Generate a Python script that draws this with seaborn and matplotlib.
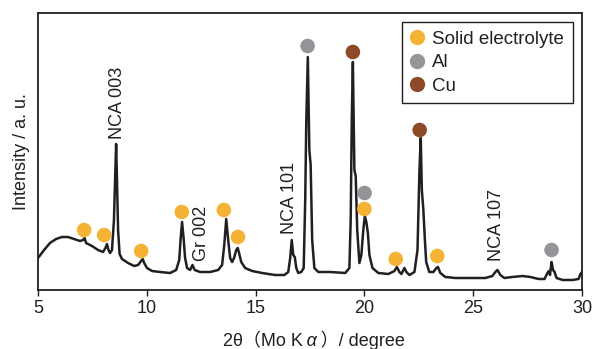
import numpy as np
import pandas as pd
import matplotlib
matplotlib.use("Agg")
import matplotlib.pyplot as plt
from matplotlib.offsetbox import TextArea, HPacker, AnchoredOffsetbox
import seaborn as sns

# ---- data (2theta in degree, intensity in a.u.) ----
two_theta = [5.00, 5.28, 5.55, 5.83, 6.10, 6.38, 6.66, 6.93, 7.07, 7.14, 7.21, 7.48,
             7.76, 7.99, 8.10, 8.17, 8.24, 8.31, 8.40, 8.49, 8.54, 8.59, 8.63, 8.68,
             8.75, 8.86, 9.14, 9.42, 9.60, 9.74, 9.81, 9.88, 10.01, 10.24, 10.61, 11.07,
             11.35, 11.49, 11.55, 11.62, 11.69, 11.76, 11.85, 11.99, 12.10, 12.20, 12.45,
             12.91, 13.28, 13.46, 13.56, 13.65, 13.74, 13.83, 13.92, 14.01, 14.11, 14.18,
             14.24, 14.34, 14.52, 14.84, 15.30, 15.90, 16.32, 16.50, 16.59, 16.66, 16.73,
             16.80, 16.87, 16.96, 17.10, 17.21, 17.28, 17.33, 17.40, 17.47, 17.53, 17.60,
             17.70, 17.88, 18.43, 19.12, 19.31, 19.37, 19.42, 19.47, 19.54, 19.60, 19.67,
             19.77, 19.86, 19.95, 20.02, 20.09, 20.16, 20.23, 20.37, 20.64, 21.10, 21.38,
             21.49, 21.61, 21.70, 21.84, 21.93, 22.07, 22.30, 22.44, 22.53, 22.59, 22.64,
             22.71, 22.78, 22.84, 22.98, 23.17, 23.31, 23.38, 23.49, 23.72, 24.18, 24.87,
             25.56, 25.88, 26.02, 26.11, 26.25, 26.43, 26.80, 27.26, 27.63, 28.00, 28.28,
             28.41, 28.48, 28.53, 28.60, 28.67, 28.74, 28.83, 29.11, 29.57, 29.84, 29.93,
             30.00]
intensity = [32, 40, 47, 51, 53, 53, 51, 49, 50, 52, 47, 44,
             40, 38, 42, 46, 40, 37, 40, 70, 110, 146, 110, 60,
             36, 31, 27, 24, 25, 29, 31, 27, 22, 19, 18, 17,
             20, 30, 50, 68, 52, 32, 22, 20, 25, 20, 18,
             18, 20, 25, 45, 71, 50, 32, 28, 32, 40, 42,
             37, 28, 22, 19, 17, 15, 15, 18, 32, 50, 35,
             33, 22, 17, 18, 22, 90, 170, 233, 140, 125, 50,
             22, 18, 18, 17, 22, 70, 170, 228, 120, 114, 60,
             27, 35, 60, 74, 68, 57, 35, 22, 17, 16, 19,
             23, 18, 16, 22, 18, 15, 18, 40, 120, 152, 100,
             80, 50, 28, 18, 18, 22, 23, 17, 13, 12, 12,
             12, 14, 18, 20, 15, 12, 13, 14, 13, 11, 11,
             17, 19, 15, 28, 20, 18, 12, 10, 10, 11, 16,
             18]

# phase markers
marker_phase = ["Solid electrolyte"] * 9 + ["Al"] * 3 + ["Cu"] * 2
marker_x = [7.12, 8.04, 9.74, 11.61, 13.54, 14.19, 20.00, 21.44, 23.35,
            17.39, 20.01, 28.60,
            19.47, 22.54]
marker_y = [60, 55, 39, 78, 80, 53, 81, 31, 34,
            244, 97, 40,
            238, 160]
phase_order = ["Solid electrolyte", "Al", "Cu"]
phase_colors = {"Solid electrolyte": "#F5B335", "Al": "#939598", "Cu": "#8C4A2A"}

# peak annotations
label_text = ["NCA 003", "Gr 002", "NCA 101", "NCA 107"]
label_x = [8.65, 12.50, 16.55, 26.05]
label_y = [151, 29, 56, 29]

xticks = [5, 10, 15, 20, 25, 30]

# ---- style ----
sns.set_theme(style="white")
fam = ["Liberation Sans", "Noto Sans CJK JP", "DejaVu Sans"]
plt.rcParams["font.family"] = fam
ink = "#231F20"

fig = plt.figure(figsize=(5.95, 3.49), dpi=100)
ax = fig.add_axes([38 / 595, 59 / 349, 544 / 595, 277 / 349])

spec = pd.DataFrame({"x": two_theta, "y": intensity})
sns.lineplot(data=spec, x="x", y="y", ax=ax, color=ink, lw=1.8, sort=False,
             estimator=None, zorder=2)

marks = pd.DataFrame({"x": marker_x, "y": marker_y, "phase": marker_phase})
sns.scatterplot(data=marks, x="x", y="y", hue="phase", hue_order=phase_order,
                palette=phase_colors, s=110, edgecolor="none", ax=ax, zorder=3)

for t, xx, yy in zip(label_text, label_x, label_y):
    ax.text(xx, yy, t, rotation=90, ha="center", va="bottom", fontsize=13, color=ink)

ax.set_xlim(5, 30)
ax.set_ylim(0, 277)
ax.set_xticks(xticks)
ax.set_xticklabels([str(v) for v in xticks])
ax.set_yticks([])
ax.tick_params(axis="x", direction="out", length=4, width=1, colors=ink,
               labelsize=13, pad=3, bottom=True)
for sp in ax.spines.values():
    sp.set_color(ink)
    sp.set_linewidth(1.3)

ax.set_ylabel("Intensity / a. u.", fontsize=13, color=ink, labelpad=6)
ax.set_xlabel("")

# x label built from pieces so the italic alpha and full-width brackets render
tp = dict(fontsize=13, color=ink, family=fam)
parts = [TextArea("2θ（Mo K", textprops=tp),
         TextArea("\u2009α", textprops=dict(tp, style="italic", family=["Liberation Sans"])),
         TextArea("\u2009）/ degree", textprops=dict(tp, family=["Liberation Sans", "Noto Sans CJK JP"]))]
pack = HPacker(children=parts, align="baseline", pad=0, sep=0)
anch = AnchoredOffsetbox(loc="upper center", child=pack, pad=0, borderpad=0,
                         frameon=False, bbox_to_anchor=(314 / 595, 1 - 331 / 349),
                         bbox_transform=fig.transFigure)
fig.add_artist(anch)

handles, labels = ax.get_legend_handles_labels()
leg = ax.legend(handles, labels, loc="upper right", bbox_to_anchor=(0.983, 0.9675),
                borderaxespad=0, frameon=True, fancybox=False, framealpha=1,
                edgecolor=ink, fontsize=13.5, handletextpad=0.5, labelspacing=0.34,
                borderpad=0.45, handlelength=0.7, markerscale=1.05)
leg.get_frame().set_linewidth(1.0)
for txt in leg.get_texts():
    txt.set_color(ink)

fig.savefig("out.png", dpi=100)
